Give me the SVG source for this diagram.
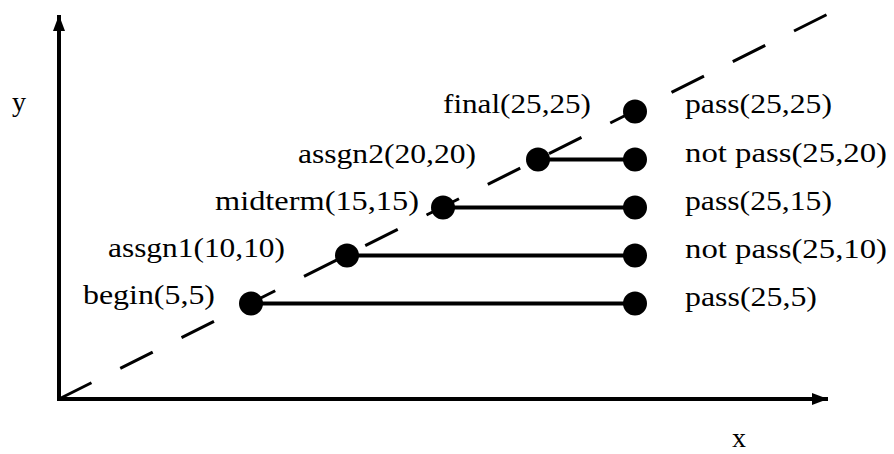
<svg xmlns="http://www.w3.org/2000/svg" width="894" height="454" viewBox="0 0 894 454">
<style>
text{font-family:"Liberation Serif","Times New Roman",serif;font-size:28px;fill:#000}
.axis{stroke:#000;stroke-width:4;fill:none}
.conn{stroke:#000;stroke-width:4;fill:none}
.diag{stroke:#000;stroke-width:3;fill:none;stroke-dasharray:36.3 32.2}
.dot{fill:#000}
</style>
<defs>
<marker id="ah" viewBox="0 0 16 12" refX="16" refY="6" markerWidth="16" markerHeight="12" markerUnits="userSpaceOnUse" orient="auto">
<path d="M0,0 L16,6 L0,12 z" fill="#000"/>
</marker>
</defs>
<rect width="894" height="454" fill="#fff"/>
<g id="axes">
<line class="axis" x1="59" y1="401" x2="59" y2="15" marker-end="url(#ah)"/>
<line class="axis" x1="57" y1="399" x2="828" y2="399" marker-end="url(#ah)"/>
<text x="12" y="111">y</text>
<text x="732" y="447">x</text>
</g>
<g id="connectors">
<line class="diag" x1="59" y1="399" x2="828" y2="14"/>
<line class="conn" x1="251" y1="303.5" x2="635" y2="303.5"/>
<line class="conn" x1="347" y1="255.5" x2="635" y2="255.5"/>
<line class="conn" x1="443" y1="207.5" x2="635" y2="207.5"/>
<line class="conn" x1="538" y1="159.5" x2="635" y2="159.5"/>
</g>
<g id="begin">
<circle class="dot" cx="251" cy="303.5" r="12"/>
<text x="83" y="304" textLength="132" lengthAdjust="spacingAndGlyphs">begin(5,5)</text>
</g>
<g id="assgn1">
<circle class="dot" cx="347" cy="255.5" r="12"/>
<text x="108" y="256.5" textLength="177" lengthAdjust="spacingAndGlyphs">assgn1(10,10)</text>
</g>
<g id="midterm">
<circle class="dot" cx="443" cy="207.5" r="12"/>
<text x="215" y="209.5" textLength="204" lengthAdjust="spacingAndGlyphs">midterm(15,15)</text>
</g>
<g id="assgn2">
<circle class="dot" cx="538" cy="159.5" r="12"/>
<text x="298" y="163" textLength="178" lengthAdjust="spacingAndGlyphs">assgn2(20,20)</text>
</g>
<g id="final">
<text x="443" y="112.5" textLength="148" lengthAdjust="spacingAndGlyphs">final(25,25)</text>
</g>
<g id="pass25_25">
<circle class="dot" cx="635" cy="111.5" r="12"/>
<text x="685" y="112.5" textLength="147" lengthAdjust="spacingAndGlyphs">pass(25,25)</text>
</g>
<g id="notpass25_20">
<circle class="dot" cx="635" cy="159.5" r="12"/>
<text x="685" y="161.5" textLength="202" lengthAdjust="spacingAndGlyphs">not pass(25,20)</text>
</g>
<g id="pass25_15">
<circle class="dot" cx="635" cy="207.5" r="12"/>
<text x="685" y="209.5" textLength="147" lengthAdjust="spacingAndGlyphs">pass(25,15)</text>
</g>
<g id="notpass25_10">
<circle class="dot" cx="635" cy="255.5" r="12"/>
<text x="685" y="257.5" textLength="202" lengthAdjust="spacingAndGlyphs">not pass(25,10)</text>
</g>
<g id="pass25_5">
<circle class="dot" cx="635" cy="303.5" r="12"/>
<text x="685" y="305.5" textLength="132" lengthAdjust="spacingAndGlyphs">pass(25,5)</text>
</g>
</svg>
